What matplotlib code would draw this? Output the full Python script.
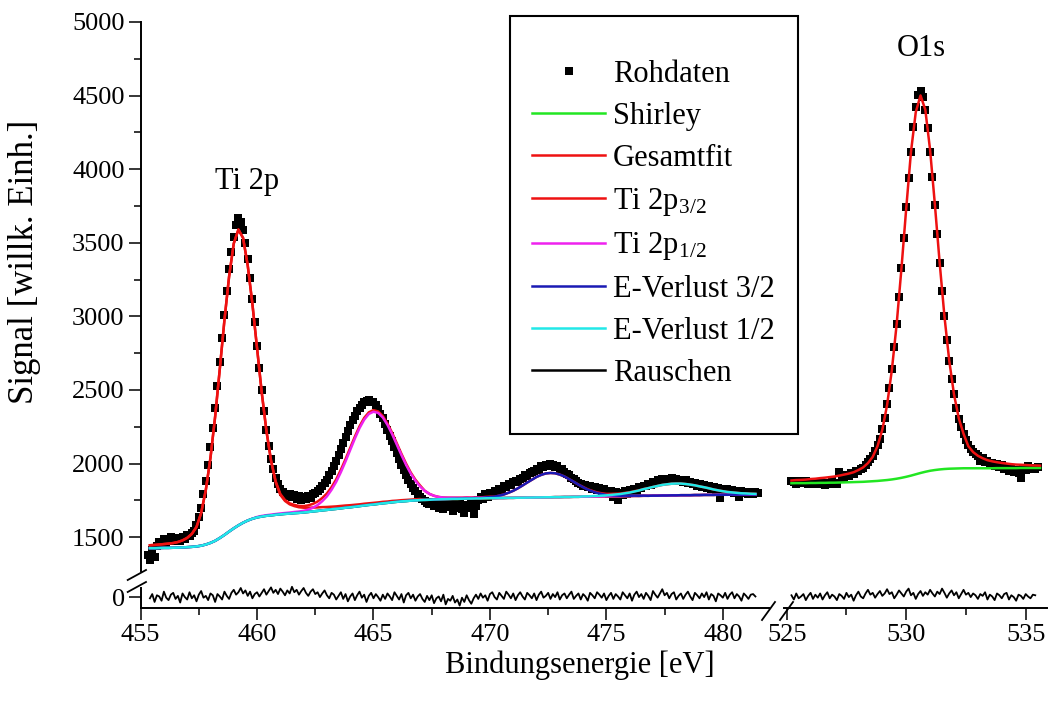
import numpy as np
import matplotlib
matplotlib.use("Agg")
import matplotlib.pyplot as plt
from matplotlib.ticker import MultipleLocator, FixedLocator, NullLocator
from matplotlib.lines import Line2D
from matplotlib.patches import Rectangle

plt.rcParams['font.family'] = 'serif'
plt.rcParams['font.serif'] = ['Liberation Serif', 'DejaVu Serif']
plt.rcParams['mathtext.fontset'] = 'custom'
plt.rcParams['mathtext.rm'] = 'Liberation Serif'
plt.rcParams['mathtext.it'] = 'Liberation Serif:italic'

# --- Ti 2p Bereich: Rohdaten (Schritt 0.1 eV ab 455.3 eV)
ti_raw_start, raw_step = 455.3, 0.1
ti_raw = [
    1380, 1345, 1410, 1365, 1440, 1470, 1455, 1490, 1462, 1480,
    1500, 1472, 1488, 1497, 1476, 1503, 1490, 1512, 1508, 1530,
    1545, 1585, 1640, 1700, 1790, 1880, 1990, 2110, 2240, 2380,
    2530, 2690, 2850, 3010, 3170, 3320, 3440, 3540, 3620, 3665,
    3640, 3590, 3500, 3390, 3260, 3120, 2960, 2800, 2650, 2500,
    2360, 2230, 2120, 2030, 1960, 1905, 1860, 1830, 1808, 1795,
    1780, 1792, 1770, 1785, 1760, 1778, 1755, 1772, 1760, 1780,
    1765, 1790, 1800, 1812, 1830, 1845, 1870, 1890, 1920, 1950,
    1985, 2020, 2060, 2100, 2140, 2180, 2220, 2260, 2295, 2325,
    2355, 2380, 2400, 2415, 2425, 2430, 2420, 2415, 2395, 2370,
    2340, 2310, 2270, 2230, 2190, 2150, 2110, 2070, 2030, 1990,
    1955, 1920, 1890, 1862, 1835, 1812, 1790, 1775, 1760, 1748,
    1735, 1725, 1740, 1710, 1722, 1700, 1735, 1690, 1715, 1745,
    1705, 1680, 1725, 1700, 1740, 1690, 1665, 1720, 1695, 1735,
    1660, 1710, 1750, 1770, 1760, 1790, 1775, 1800, 1785, 1815,
    1805, 1830, 1820, 1845, 1838, 1860, 1855, 1872, 1880, 1875,
    1898, 1905, 1920, 1915, 1935, 1945, 1950, 1965, 1958, 1980,
    1975, 1992, 1985, 2000, 1990, 1978, 1985, 1965, 1960, 1945,
    1930, 1925, 1905, 1895, 1880, 1870, 1862, 1850, 1855, 1838,
    1845, 1830, 1842, 1820, 1835, 1810, 1825, 1800, 1790, 1815,
    1770, 1805, 1755, 1800, 1785, 1812, 1790, 1820, 1805, 1830,
    1815, 1840, 1835, 1850, 1845, 1862, 1855, 1875, 1868, 1885,
    1878, 1892, 1880, 1898, 1885, 1900, 1888, 1895, 1880, 1890,
    1872, 1885, 1865, 1878, 1860, 1870, 1850, 1862, 1840, 1855,
    1835, 1848, 1825, 1840, 1818, 1832, 1765, 1828, 1810, 1825,
    1805, 1820, 1800, 1815, 1770, 1812, 1798, 1810, 1795, 1808,
    1792, 1805, 1800,
]

# Fit-Gitter Ti 2p (Schritt 0.2 eV ab 455.4 eV)
ti_fit_start, fit_step = 455.4, 0.2
ti_shirley = [
    1425, 1425, 1426, 1427, 1427, 1428, 1429, 1430, 1432, 1434,
    1437, 1442, 1450, 1461, 1475, 1494, 1515, 1538, 1560, 1580,
    1598, 1613, 1625, 1634, 1640, 1645, 1648, 1652, 1655, 1658,
    1660, 1663, 1665, 1668, 1671, 1675, 1678, 1682, 1685, 1689,
    1692, 1696, 1700, 1703, 1707, 1711, 1715, 1719, 1722, 1726,
    1730, 1733, 1737, 1740, 1743, 1745, 1748, 1750, 1752, 1753,
    1754, 1756, 1757, 1758, 1759, 1760, 1760, 1761, 1762, 1762,
    1763, 1763, 1764, 1765, 1765, 1766, 1766, 1767, 1767, 1768,
    1768, 1769, 1769, 1770, 1770, 1771, 1771, 1772, 1772, 1773,
    1773, 1774, 1774, 1775, 1775, 1776, 1776, 1777, 1777, 1778,
    1778, 1778, 1779, 1779, 1780, 1780, 1781, 1781, 1782, 1782,
    1783, 1783, 1784, 1784, 1785, 1785, 1785, 1786, 1786, 1787,
    1787, 1787, 1788, 1788, 1788, 1789, 1789, 1789, 1790, 1790,
    1790,
]

# Komponenten ueber dem Untergrund: (Startenergie, Werte)
ti2p32_start = 455.4
ti2p32 = [
    20, 22, 24, 26, 29, 32, 38, 48, 63, 88, 132, 222, 370, 578, 843,
    1148, 1460, 1733, 1935, 2010, 1935, 1733, 1460, 1148, 843, 578, 370,
    222, 132, 88, 63, 48, 38, 32, 29, 26, 24, 22, 20,
    18, 17, 16, 15, 14, 13, 12, 12, 11, 11, 10, 10, 9, 9, 8, 8, 8, 7, 7, 7,
]
ti2p12_start = 460.0
ti2p12 = [
    3, 4, 4, 5, 5, 6, 6, 7, 8, 9, 11, 16, 25, 40, 62, 92, 133, 184, 246,
    315, 389, 463, 530, 583, 618, 630, 618, 583, 530, 463, 389, 315, 246,
    184, 133, 92, 62, 40, 25, 16, 11, 9, 8, 7, 6, 6, 5, 5, 4, 4, 3,
]
verlust32_start = 468.6
verlust32 = [
    1, 1, 2, 2, 3, 3, 5, 7, 10, 16, 24, 35, 48, 64, 83, 102, 121, 139,
    153, 162, 165, 162, 153, 139, 121, 102, 83, 64, 48, 35, 24, 16, 10,
    7, 5, 3, 3, 2, 2, 1, 1,
]
verlust12_start = 474.0
verlust12 = [
    2, 2, 3, 4, 5, 7, 9, 12, 15, 19, 24, 30, 37, 45, 52, 59, 66, 72, 76,
    79, 80, 79, 76, 72, 66, 59, 52, 45, 37, 30, 24, 19, 15, 12, 9, 7, 5, 4,
]

# --- O 1s Bereich
o1s_raw_start = 525.2
o1s_raw = [
    1880, 1875, 1858, 1884, 1872, 1866, 1880, 1861, 1872, 1858,
    1866, 1877, 1860, 1871, 1855, 1868, 1862, 1880, 1870, 1858,
    1944, 1896, 1905, 1922, 1918, 1936, 1930, 1950, 1948, 1962,
    1970, 1992, 2008, 2030, 2052, 2085, 2128, 2170, 2232, 2310,
    2402, 2512, 2640, 2790, 2950, 3130, 3330, 3530, 3740, 3940,
    4120, 4290, 4420, 4505, 4530, 4490, 4400, 4280, 4120, 3950,
    3760, 3560, 3360, 3170, 3000, 2840, 2700, 2575, 2470, 2380,
    2305, 2248, 2200, 2160, 2128, 2100, 2080, 2062, 2050, 2020,
    2035, 2010, 2018, 1995, 2002, 1985, 1998, 1975, 1990, 1962,
    1978, 1950, 1968, 1940, 1958, 1935, 1905, 1970, 1955, 1980,
    1965, 1972, 1960, 1975,
]
o1s_fit_start = 525.2
o1s_shirley = [
    1866, 1867, 1867, 1867, 1868, 1868, 1869, 1869, 1870,
    1870, 1871, 1872, 1873, 1874, 1875, 1876, 1878, 1880, 1882,
    1885, 1888, 1892, 1897, 1903, 1910, 1918, 1927, 1936, 1944,
    1951, 1956, 1960, 1963, 1965, 1966, 1967, 1968, 1968, 1968,
    1968, 1968, 1968, 1968, 1969, 1969, 1969, 1969, 1969, 1970,
    1970, 1970, 1970, 1970,
]
o1s_peak = [
    19, 21, 22, 24, 27, 29, 32, 35, 38, 42, 47, 53, 59, 67, 81, 98, 125,
    166, 236, 344, 509, 743, 1048, 1419, 1821, 2199, 2460, 2565,
    2460, 2180, 1805, 1405, 1038, 736, 504, 341, 234, 150, 110, 85, 68,
    55, 47, 40, 35, 31, 27, 24, 22, 20, 18, 17, 16,
]

# --- Rauschen (Residuen), Schritt 0.1 eV
noise_step = 0.1
ti_noise_start = 455.4
ti_noise = [
    -10, 25, -40, 15, 5, -30, 45, -5, -25, 20, 35, -15, 10, -45, 30, 0, -20, 40, -10, 15,
    -35, 20, 50, -5, 10, -25, 30, 15, -40, 25, 5, -20, 45, 10, -15, 35, 60, 20, 40, 75,
    30, 55, 10, 45, -10, 25, 40, 5, 35, 65, 20, 50, 80, 35, 60, 25, 70, 45, 15, 55,
    30, 85, 40, 60, 20, 50, 75, 35, 10, 45, 65, 25, 40, 0, 30, 55, 15, -10, 35, 20,
    -20, 10, 40, -15, 25, -35, 5, 30, -25, 15, 45, -5, 20, -40, 10, 35, -10, 25, 0, -30,
    20, -15, 30, 5, -25, 40, 10, -20, 25, -45, 15, 35, -10, 20, -30, 5, 25, -15, -40, 10,
    -25, 15, -50, -10, 5, -35, 20, -60, -15, -30, 10, -45, -20, -70, -5, -40, 15, -25, -55, -10,
    20, -15, 30, -5, 15, -30, 25, 40, 0, -20, 35, 10, -15, 45, 20, -10, 30, -25, 15, 40,
    5, -20, 35, 15, -10, 30, -25, 20, 45, -5, 10, 35, -15, 25, 0, 40, -20, 15, 30, -10,
    20, 45, -15, 10, 30, -20, 25, 5, -30, 35, 15, -10, 40, 20, -5, 30, -25, 10, 35, -15,
    25, 5, -20, 40, 15, -10, 30, -30, 20, 45, 0, 25, -15, 35, 10, -25, 50, 20, -5, 30,
    65, 15, 35, -10, 25, 40, -20, 10, 30, -15, 20, 45, 5, -25, 35, 15, -10, 30, 0, 40,
    -20, 25, 10, -35, 30, 15, -5, 35, -15, 20, 40, -10, 25, 5, -30, 30, 10, -15, 20, 25,
    5,
]
o1s_noise_start = 525.2
o1s_noise = [
    15, -20, 30, -10, 5, 25, -25, 10, 35, -15, 20, -5, 30, -20, 15, 40, -10, 20, 5, -25,
    25, 10, -15, 35, 0, 20, -30, 15, 45, 5, -10, 30, 60, 20, 35, -5, 25, 50, 10, 30,
    65, 25, 40, -10, 20, 55, 30, 5, 45, 70, 15, 35, -15, 25, 50, 10, 40, 20, 60, 30,
    5, 45, 25, 70, 35, -5, 30, 55, 15, 40, -10, 25, 60, 20, 35, 0, 30, 15, -15, 25,
    10, 40, -20, 20, 5, -25, 30, 15, -10, 25, 35, -20, 15, 0, -30, 20, 10, -15, 25, 5,
    -10, 20, 15,
]

legend_labels = ['Rohdaten', 'Shirley', 'Gesamtfit', r'Ti 2p$_{\mathregular{3/2}}$',
                 r'Ti 2p$_{\mathregular{1/2}}$', 'E-Verlust 3/2', 'E-Verlust 1/2', 'Rauschen']
colors = {'shirley': '#22e622', 'fit': '#ee1111', 'p12': '#ee22ee',
          'v32': '#1a1ab4', 'v12': '#22e8e8'}


def grid(start, step, values):
    return start + step * np.arange(len(values))


def on_grid(start, values, g_start, g_len):
    # Komponente auf das volle Fit-Gitter legen (ausserhalb = 0)
    full = np.zeros(g_len)
    i0 = int(round((start - g_start) / fit_step))
    full[i0:i0 + len(values)] = values
    return full


x_ti_raw = grid(ti_raw_start, raw_step, ti_raw)
x_ti_fit = grid(ti_fit_start, fit_step, ti_shirley)
n_ti = len(ti_shirley)
bg = np.array(ti_shirley, dtype=float)
c32 = on_grid(ti2p32_start, ti2p32, ti_fit_start, n_ti)
c12 = on_grid(ti2p12_start, ti2p12, ti_fit_start, n_ti)
v32 = on_grid(verlust32_start, verlust32, ti_fit_start, n_ti)
v12 = on_grid(verlust12_start, verlust12, ti_fit_start, n_ti)
ti_total = bg + c32 + c12 + v32 + v12

x_o_raw = grid(o1s_raw_start, raw_step, o1s_raw)
x_o_fit = grid(o1s_fit_start, fit_step, o1s_shirley)
o_bg = np.array(o1s_shirley, dtype=float)
o_total = o_bg + np.array(o1s_peak)

x_ti_noise = grid(ti_noise_start, noise_step, ti_noise)
x_o_noise = grid(o1s_noise_start, noise_step, o1s_noise)

W, H = 1051, 702
fig = plt.figure(figsize=(W / 100, H / 100), dpi=100)


def px_axes(x0, x1, y0, y1):
    return fig.add_axes([x0 / W, 1 - y1 / H, (x1 - x0) / W, (y1 - y0) / H])


ax_ul = px_axes(140.6, 769.4, 22, 571)
ax_ur = px_axes(784.3, 1047.2, 22, 571)
ax_ll = px_axes(140.6, 769.4, 588, 608)
ax_lr = px_axes(784.3, 1047.2, 588, 608)

ms = 5.6
lw = 1.8
# Ti 2p
ax_ul.plot(x_ti_raw, ti_raw, 's', color='k', ms=ms, mew=0)
ax_ul.plot(x_ti_fit, bg, color=colors['shirley'], lw=lw)
ax_ul.plot(x_ti_fit, ti_total, color=colors['fit'], lw=lw)
ax_ul.plot(x_ti_fit, bg + c32, color=colors['fit'], lw=lw)
ax_ul.plot(x_ti_fit, bg + c12, color=colors['p12'], lw=lw)
ax_ul.plot(x_ti_fit, bg + v32, color=colors['v32'], lw=lw)
ax_ul.plot(x_ti_fit, bg + v12, color=colors['v12'], lw=lw)
ax_ul.text(459.55, 3913, 'Ti 2p', fontsize=22, ha='center', va='center')

# O 1s
ax_ur.plot(x_o_raw, o1s_raw, 's', color='k', ms=ms, mew=0)
ax_ur.plot(x_o_fit, o_bg, color=colors['shirley'], lw=lw)
ax_ur.plot(x_o_fit, o_total, color=colors['fit'], lw=lw)
ax_ur.text(530.62, 4821, 'O1s', fontsize=22, ha='center', va='center')

# Rauschen
ax_ll.plot(x_ti_noise, ti_noise, color='k', lw=1.3, clip_on=False)
ax_lr.plot(x_o_noise, o1s_noise, color='k', lw=1.3, clip_on=False)

for ax in (ax_ul, ax_ll):
    ax.set_xlim(455, 482)
for ax in (ax_ur, ax_lr):
    ax.set_xlim(524.9, 535.9)
for ax in (ax_ul, ax_ur):
    ax.set_ylim(1270, 5000)
for ax in (ax_ll, ax_lr):
    ax.set_ylim(-90, 75)

for ax in (ax_ul, ax_ur, ax_ll, ax_lr):
    ax.patch.set_alpha(0)
    for s in ax.spines.values():
        s.set_visible(False)
        s.set_linewidth(1.4)
    ax.tick_params(which='major', direction='out', length=8.5, width=1.1,
                   labelsize=19, pad=3)
    ax.tick_params(which='minor', direction='out', length=5, width=1.1)

ax_ul.spines['left'].set_visible(True)
ax_ul.yaxis.set_major_locator(MultipleLocator(500))
ax_ul.yaxis.set_minor_locator(MultipleLocator(250))
ax_ul.set_yticks(np.arange(1500, 5001, 500))
ax_ul.tick_params(axis='x', which='both', bottom=False, labelbottom=False)
ax_ur.tick_params(axis='both', which='both', bottom=False, left=False,
                  labelbottom=False, labelleft=False)

ax_ll.spines['left'].set_visible(True)
ax_ll.spines['bottom'].set_visible(True)
ax_ll.yaxis.set_major_locator(FixedLocator([0]))
ax_ll.yaxis.set_minor_locator(NullLocator())
ax_ll.xaxis.set_major_locator(MultipleLocator(5))
ax_ll.xaxis.set_minor_locator(MultipleLocator(2.5))

ax_lr.spines['bottom'].set_visible(True)
ax_lr.tick_params(axis='y', which='both', left=False, labelleft=False)
ax_lr.xaxis.set_major_locator(MultipleLocator(5))
ax_lr.xaxis.set_minor_locator(MultipleLocator(2.5))


def stroke(p0, p1):
    fig.add_artist(Line2D([p0[0] / W, p1[0] / W], [1 - p0[1] / H, 1 - p1[1] / H],
                          transform=fig.transFigure, color='k', lw=1.3))


# Achsenunterbrechungen
stroke((127.7, 580), (146, 570))
stroke((127.7, 592), (146, 582))
stroke((762, 620), (775, 602))
stroke((780, 620), (793, 602))

fig.text(580 / W, 1 - 665 / H, 'Bindungsenergie [eV]', fontsize=22,
         ha='center', va='center')
fig.text(25 / W, 1 - 262 / H, 'Signal [willk. Einh.]', fontsize=25,
         ha='center', va='center', rotation=90)

# Legende mit eigenem Rahmen
handles = [Line2D([], [], ls='none', marker='s', color='k', ms=ms, mew=0),
           Line2D([], [], color=colors['shirley'], lw=lw),
           Line2D([], [], color=colors['fit'], lw=lw),
           Line2D([], [], color=colors['fit'], lw=lw),
           Line2D([], [], color=colors['p12'], lw=lw),
           Line2D([], [], color=colors['v32'], lw=lw),
           Line2D([], [], color=colors['v12'], lw=lw),
           Line2D([], [], color='k', lw=lw)]
fig.legend(handles, legend_labels, loc='upper left',
           bbox_to_anchor=(532 / W, 1 - 60 / H), frameon=False, fontsize=22,
           handlelength=2.4, handletextpad=0.25, labelspacing=0.42,
           borderpad=0, borderaxespad=0, numpoints=1)
fig.add_artist(Rectangle((510 / W, 1 - 434 / H), 288 / W, 418 / H,
                         transform=fig.transFigure, fill=False,
                         edgecolor='k', lw=1.5))

fig.savefig('out.png', dpi=100)
